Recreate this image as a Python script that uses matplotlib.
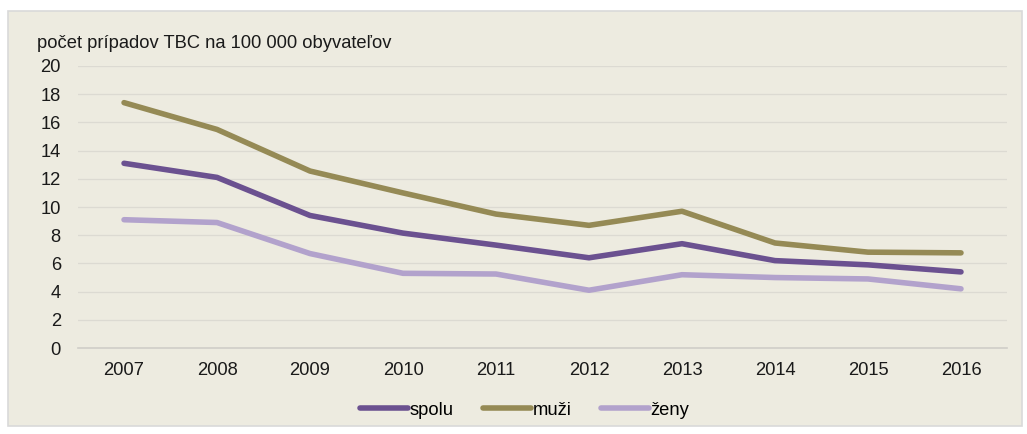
import numpy as np
import matplotlib.pyplot as plt
from matplotlib.patches import Rectangle

plt.rcParams['font.family'] = ['Liberation Sans', 'DejaVu Sans']

# data
roky = ['2007', '2008', '2009', '2010', '2011', '2012', '2013', '2014', '2015', '2016']
spolu = [13.1, 12.1, 9.4, 8.15, 7.3, 6.4, 7.4, 6.2, 5.9, 5.4]
muzi = [17.4, 15.5, 12.55, 11.0, 9.5, 8.7, 9.7, 7.45, 6.8, 6.75]
zeny = [9.1, 8.9, 6.7, 5.3, 5.25, 4.1, 5.2, 5.0, 4.9, 4.2]

bg = '#EDEBE0'
fs = 13.2

fig = plt.figure(figsize=(10.27, 4.34), dpi=100)
fig.patch.set_facecolor('white')
# beige panel with light border
fig.patches.append(Rectangle((8 / 1027, 8 / 434), 1014 / 1027, 415 / 434,
                             transform=fig.transFigure, facecolor=bg,
                             edgecolor='#D9D9D9', linewidth=1.2, zorder=-5))

ax = fig.add_axes([0.0755, 0.198, 0.9055, 0.650])
ax.set_facecolor('none')

x = np.arange(len(roky))
kw = dict(linewidth=4.0, solid_capstyle='round', solid_joinstyle='round')
ax.plot(x, spolu, color='#6B5190', label='spolu', **kw)
ax.plot(x, muzi, color='#958A55', label='muži', **kw)
ax.plot(x, zeny, color='#B2A2CC', label='ženy', **kw)

ax.set_xlim(-0.5, 9.5)
ax.set_ylim(0, 20)
ax.set_yticks(range(0, 21, 2))
ax.set_xticks(x)
ax.set_xticklabels(roky)
ax.tick_params(axis='both', length=0, labelsize=fs, colors='#1a1a1a')
ax.tick_params(axis='y', pad=12)
ax.tick_params(axis='x', pad=10)
ax.grid(axis='y', color='#DCDAD2', linewidth=0.9)
ax.set_axisbelow(True)
for s in ['top', 'right', 'left']:
    ax.spines[s].set_visible(False)
ax.spines['bottom'].set_color('#D0CEC8')
ax.spines['bottom'].set_linewidth(1.2)

fig.text(37 / 1027, 1 - 43 / 434, 'počet prípadov TBC na 100 000 obyvateľov',
         fontsize=fs, va='center', ha='left', color='#1a1a1a')

leg = fig.legend(loc='center', bbox_to_anchor=(0.511, 0.055), ncol=3,
                 frameon=False, fontsize=fs, handlelength=2.6,
                 handletextpad=0.1, columnspacing=1.6)

fig.savefig('out.png', dpi=100)
